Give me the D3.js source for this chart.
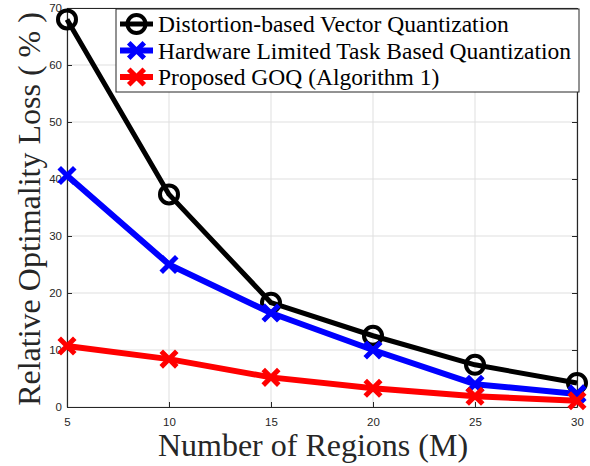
<!DOCTYPE html>
<html>
<head>
<meta charset="utf-8">
<script src="https://cdn.jsdelivr.net/npm/d3@7"></script>
<style>
  html, body { margin: 0; padding: 0; background: #fff; }
  svg { display: block; }
</style>
</head>
<body>
<svg id="chart" width="590" height="466"></svg>
<script>
const regions = [5, 10, 15, 20, 25, 30];
const distortionVQ = [68.0, 37.3, 18.3, 12.5, 7.4, 4.2];
const hardwareTBQ = [40.6, 25.0, 16.5, 10.0, 4.0, 2.3];
const proposedGOQ = [10.7, 8.4, 5.2, 3.3, 1.9, 1.1];
const xTicks = [5, 10, 15, 20, 25, 30];
const yTicks = [0, 10, 20, 30, 40, 50, 60, 70];
const seriesNames = [
  "Distortion-based Vector Quantization",
  "Hardware Limited Task Based Quantization",
  "Proposed GOQ (Algorithm 1)"
];

(function () {
const svg = d3.select("#chart");
const pLeft = 67, pRight = 577, pTop = 8, pBottom = 407;

const x = d3.scaleLinear().domain([5, 30]).range([pLeft, pRight]);
const y = d3.scaleLinear().domain([0, 70]).range([pBottom, pTop]);

const axisColor = "#262626";
const gridColor = "#dfdfdf";
const serif = "'Liberation Serif', 'Times New Roman', serif";

// grid
const grid = svg.append("g");
grid.selectAll("line.gx").data(xTicks).enter().append("line")
  .attr("x1", d => x(d)).attr("x2", d => x(d))
  .attr("y1", pTop).attr("y2", pBottom)
  .attr("stroke", gridColor).attr("stroke-width", 1);
grid.selectAll("line.gy").data(yTicks).enter().append("line")
  .attr("x1", pLeft).attr("x2", pRight)
  .attr("y1", d => y(d)).attr("y2", d => y(d))
  .attr("stroke", gridColor).attr("stroke-width", 1);

// axes
const tickFont = "'Liberation Sans', Arial, sans-serif";
const xAxis = svg.append("g").attr("transform", `translate(0,${pBottom})`)
  .call(d3.axisBottom(x).tickValues(xTicks).tickSizeInner(-5).tickSizeOuter(0).tickPadding(11));
const yAxis = svg.append("g").attr("transform", `translate(${pLeft},0)`)
  .call(d3.axisLeft(y).tickValues(yTicks).tickSizeInner(-5).tickSizeOuter(0).tickPadding(5));
const xAxisTop = svg.append("g").attr("transform", `translate(0,${pTop})`)
  .call(d3.axisTop(x).tickValues(xTicks).tickSizeInner(-5).tickSizeOuter(0).tickFormat(""));
const yAxisRight = svg.append("g").attr("transform", `translate(${pRight},0)`)
  .call(d3.axisRight(y).tickValues(yTicks).tickSizeInner(-5).tickSizeOuter(0).tickFormat(""));
[xAxis, yAxis, xAxisTop, yAxisRight].forEach(g => {
  g.select(".domain").attr("stroke", axisColor).attr("stroke-width", 1.2);
  g.selectAll(".tick line").attr("stroke", axisColor);
  g.selectAll(".tick text").attr("fill", axisColor)
    .style("font-family", tickFont).style("font-size", "11.5px");
});

// lines
const seriesData = [distortionVQ, hardwareTBQ, proposedGOQ];
const colors = ["#000000", "#0000ff", "#ff0000"];
const widths = [5, 6, 6];
const markers = ["circle", "cross", "cross"];

const lineGen = d3.line().x(d => x(d[0])).y(d => y(d[1]));

function drawMarker(g, type, cx, cy, color) {
  if (type === "circle") {
    g.append("circle").attr("cx", cx).attr("cy", cy).attr("r", 9)
      .attr("fill", "none").attr("stroke", color).attr("stroke-width", 4);
  } else {
    const s = 6;
    g.append("path")
      .attr("d", `M${cx - s},${cy - s}L${cx + s},${cy + s}M${cx - s},${cy + s}L${cx + s},${cy - s}`)
      .attr("stroke", color).attr("stroke-width", 5).attr("stroke-linecap", "square").attr("fill", "none");
  }
}

seriesData.forEach((vals, i) => {
  const pts = regions.map((r, j) => [r, vals[j]]);
  const g = svg.append("g");
  g.append("path").datum(pts).attr("d", lineGen)
    .attr("fill", "none").attr("stroke", colors[i]).attr("stroke-width", widths[i])
    .attr("stroke-linejoin", "round");
  pts.forEach(p => drawMarker(g, markers[i], x(p[0]), y(p[1]), colors[i]));
});

// legend
const lg = svg.append("g");
lg.append("rect").attr("x", 116).attr("y", 9).attr("width", 463).attr("height", 83)
  .attr("fill", "#fff").attr("stroke", axisColor).attr("stroke-width", 1);
seriesNames.forEach((name, i) => {
  const cy = 24 + i * 26.5;
  lg.append("line").attr("x1", 120).attr("x2", 153).attr("y1", cy).attr("y2", cy)
    .attr("stroke", colors[i]).attr("stroke-width", widths[i]);
  drawMarker(lg, markers[i], 136.5, cy, colors[i]);
  lg.append("text").attr("x", 158).attr("y", cy + 8)
    .attr("fill", "#000")
    .style("font-family", serif)
    .style("font-size", "23.5px")
    .text(name);
});

// axis labels
svg.append("text").attr("x", 313).attr("y", 456)
  .attr("text-anchor", "middle").attr("fill", axisColor)
  .style("font-family", serif)
  .style("font-size", "32px")
  .text("Number of Regions (M)");
svg.append("text")
  .attr("transform", `translate(40,209) rotate(-90)`)
  .attr("text-anchor", "middle").attr("fill", axisColor)
  .style("font-family", serif)
  .style("font-size", "32px")
  .text("Relative Optimality Loss ( % )");
})();
</script>
</body>
</html>
